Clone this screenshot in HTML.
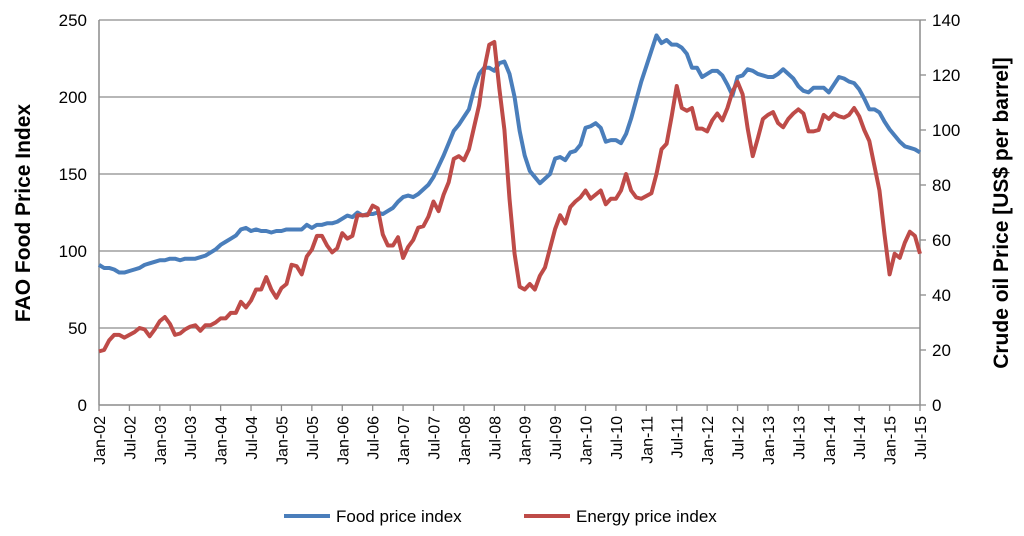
<!DOCTYPE html>
<html><head><meta charset="utf-8"><style>
html,body{margin:0;padding:0;background:#fff;}
svg{display:block;font-family:"Liberation Sans",sans-serif;}
</style></head><body>
<svg id="c" width="1024" height="536"></svg>
<script>
const food2002=[91,89,89,88,86,86,87,88,89,91,92,93];
const food2003=[94,94,95,95,94,95,95,95,96,97,99,101];
const food2004=[104,106,108,110,114,115,113,114,113,113,112,113];
const food2005=[113,114,114,114,114,117,115,117,117,118,118,119];
const food2006=[121,123,122,125,123,124,124,125,124,126,128,132];
const food2007=[135,136,135,137,140,143,148,155,162,170,178,182];
const food2008=[187,192,205,215,219,219,217,222,223,215,200,178];
const food2009=[162,152,148,144,147,150,160,161,159,164,165,169];
const food2010=[180,181,183,180,171,172,172,170,176,186,198,210];
const food2011=[220,230,240,235,237,234,234,232,228,219,219,213];
const food2012=[215,217,217,214,208,201,213,214,218,217,215,214];
const food2013=[213,213,215,218,215,212,207,204,203,206,206,206];
const food2014=[203,208,213,212,210,209,205,199,192,192,190,184];
const food2015=[179,175,171,168,167,166,164];
const oil2002=[19.5,20,23.5,25.5,25.5,24.5,25.5,26.5,28,27.5,25,27.5];
const oil2003=[30.5,32,29.5,25.5,26,27.5,28.5,29,27,29,29,30];
const oil2004=[31.5,31.5,33.5,33.5,37.5,35.5,38,42,42,46.5,42,39];
const oil2005=[42.5,44,51,50.5,47.5,54,56.5,61.5,61.5,58,55.5,57];
const oil2006=[62.5,60.5,61.5,69,69,69,72.5,71.5,62,58,58,61];
const oil2007=[53.5,57.5,60,64.5,65,68.5,74,70.5,76.5,81,89.5,90.5];
const oil2008=[89,93,101,109,122,131,132,115,100,75,55,43];
const oil2009=[42,44,42,47,50,57,64,69,66,72,74,75.5];
const oil2010=[78,75,76.5,78,73,75,75,78,84,78,75.5,75];
const oil2011=[76,77,84,93,95,105,116,108,107,108,100.5,100.5];
const oil2012=[99.5,103.5,106,103.5,108,114,117.5,113,100.5,90.5,97,104];
const oil2013=[105.5,106.5,102.5,101,104,106,107.5,106,99.5,99.5,100,105.5];
const oil2014=[104,106,105,104.5,105.5,108,105,100,96,87,78,62];
const oil2015=[47.5,55,53.5,59,63,61.5,55];
const leftTicks=[0,50,100,150,200,250];
const rightTicks=[0,20,40,60,80,100,120,140];
const xLabels=["Jan-02","Jul-02","Jan-03","Jul-03","Jan-04","Jul-04","Jan-05","Jul-05","Jan-06","Jul-06","Jan-07","Jul-07","Jan-08","Jul-08","Jan-09","Jul-09","Jan-10","Jul-10","Jan-11","Jul-11","Jan-12","Jul-12","Jan-13","Jul-13","Jan-14","Jul-14","Jan-15","Jul-15"];

const food=[].concat(food2002,food2003,food2004,food2005,food2006,food2007,food2008,food2009,food2010,food2011,food2012,food2013,food2014,food2015);
const oil=[].concat(oil2002,oil2003,oil2004,oil2005,oil2006,oil2007,oil2008,oil2009,oil2010,oil2011,oil2012,oil2013,oil2014,oil2015);
const NS="http://www.w3.org/2000/svg";
const svg=document.getElementById('c');
const X0=99,X1=920,Y0=405,Y1=20;
const nM=162;
const x=i=>X0+(X1-X0)*i/nM;
const yL=v=>Y0-(Y0-Y1)*v/250;
const yR=v=>Y0-(Y0-Y1)*v/140;
function mk(t,a,p){const e=document.createElementNS(NS,t);for(const k in a)e.setAttribute(k,a[k]);(p||svg).appendChild(e);return e;}
// gridlines
leftTicks.forEach(v=>{
 if(v>0){const g=mk('line',{x1:X0,x2:X1,y1:yL(v),y2:yL(v),stroke:'#8c8c8c','stroke-width':1.3});
 
 }
 const t=mk('text',{x:X0-12,y:yL(v)+6,'text-anchor':'end','font-size':17,fill:'#000'});t.textContent=v;
 
 
});
rightTicks.forEach(v=>{
 mk('line',{x1:X1,x2:X1+6,y1:yR(v),y2:yR(v),stroke:'#8c8c8c','stroke-width':1.3});
 const t=mk('text',{x:X1+12,y:yR(v)+6,'font-size':17,fill:'#000'});t.textContent=v;
 
 
});
// axes
mk('line',{x1:X0,x2:X0,y1:Y1,y2:Y0,stroke:'#8c8c8c','stroke-width':1.5});
mk('line',{x1:X1,x2:X1,y1:Y1,y2:Y0,stroke:'#8c8c8c','stroke-width':1.5});
mk('line',{x1:X0,x2:X1,y1:Y0,y2:Y0,stroke:'#8c8c8c','stroke-width':1.5});
xLabels.forEach((l,k)=>{
 const xx=x(k*6);
 mk('line',{x1:xx,x2:xx,y1:Y0,y2:Y0+6,stroke:'#8c8c8c','stroke-width':1.3});
 const t=mk('text',{x:0,y:0,'text-anchor':'end','font-size':16,fill:'#000',transform:`translate(${xx+6},${Y0+11}) rotate(-90)`});
 t.textContent=l;
 
 
});
// series
function line(arr,fy,col,name){
 const p=mk('polyline',{points:arr.map((v,i)=>x(i)+','+fy(v)).join(' '),fill:'none',stroke:col,'stroke-width':4,'stroke-linejoin':'round'});
 
 
}
line(food,yL,'#4a7ebb','food-price-line');
line(oil,yR,'#be4b48','energy-price-line');
// titles
let t=mk('text',{transform:'translate(30,213) rotate(-90)','text-anchor':'middle','font-size':21,'font-weight':'bold'});t.textContent='FAO Food Price Index';


t=mk('text',{transform:'translate(1008,213) rotate(-90)','text-anchor':'middle','font-size':21,'font-weight':'bold'});t.textContent='Crude oil Price [US$ per barrel]';


// legend
const lg=mk('g',{});


mk('line',{x1:284,x2:330,y1:516,y2:516,stroke:'#4a7ebb','stroke-width':4},lg);
t=mk('text',{x:336,y:522,'font-size':17},lg);t.textContent='Food price index';


mk('line',{x1:524,x2:570,y1:516,y2:516,stroke:'#be4b48','stroke-width':4},lg);
t=mk('text',{x:576,y:522,'font-size':17},lg);t.textContent='Energy price index';


</script>
</body></html>
